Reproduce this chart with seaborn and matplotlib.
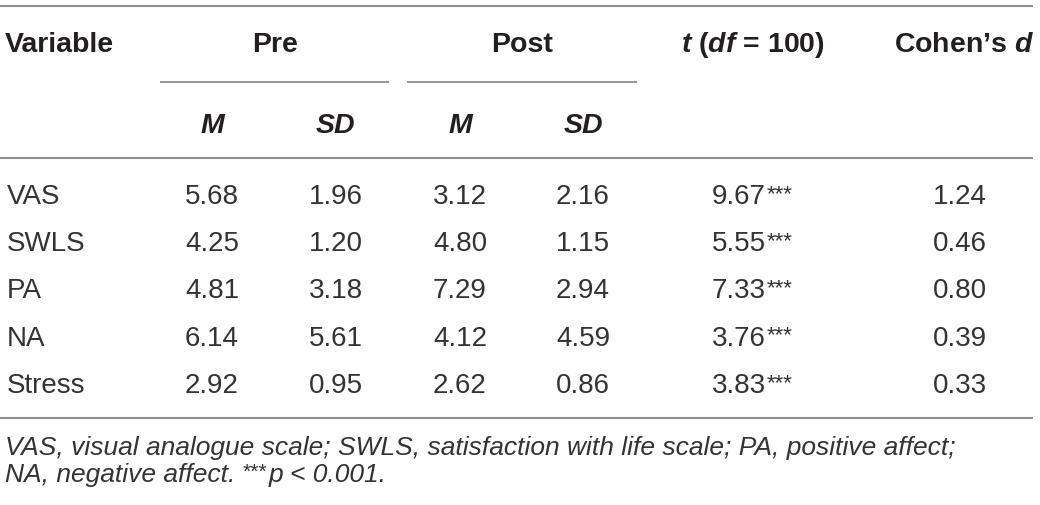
import matplotlib
matplotlib.use("Agg")
import matplotlib.pyplot as plt
import seaborn as sns
import pandas as pd

# ---------------- data ----------------
variables = ["VAS", "SWLS", "PA", "NA", "Stress"]
pre_m = [5.68, 4.25, 4.81, 6.14, 2.92]
pre_sd = [1.96, 1.20, 3.18, 5.61, 0.95]
post_m = [3.12, 4.80, 7.29, 4.12, 2.62]
post_sd = [2.16, 1.15, 2.94, 4.59, 0.86]
t_vals = [9.67, 5.55, 7.33, 3.76, 3.83]
t_sig = ["***", "***", "***", "***", "***"]
cohens_d = [1.24, 0.46, 0.80, 0.39, 0.33]

group_headers = ["Pre", "Post"]
sub_headers = ["M", "SD", "M", "SD"]
note_line1 = "VAS, visual analogue scale; SWLS, satisfaction with life scale; PA, positive affect;"
note_line2_a = "NA, negative affect."
note_line2_sig = "***"
note_line2_b = "p < 0.001."

df = pd.DataFrame({
    "Variable": variables, "pre_m": pre_m, "pre_sd": pre_sd,
    "post_m": post_m, "post_sd": post_sd, "t": t_vals, "sig": t_sig, "d": cohens_d,
})

# ---------------- style ----------------
sns.set_theme(style="white")
plt.rcParams["font.family"] = ["Liberation Sans", "DejaVu Sans"]
plt.rcParams["mathtext.fontset"] = "custom"
plt.rcParams["mathtext.rm"] = "Liberation Sans"
plt.rcParams["mathtext.it"] = "Liberation Sans:bold:italic"
plt.rcParams["mathtext.bf"] = "Liberation Sans:bold"

TXT = "#231f20"
BODY = "#333333"
RULE = "#8e8e8e"
PX = 100 / 72.0  # px per pt

fig = plt.figure(figsize=(10.4, 5.05), dpi=100)
ax = fig.add_axes([0, 0, 1, 1])
ax.set_xlim(0, 1040)
ax.set_ylim(505, 0)
ax.axis("off")
fig.canvas.draw()
rend = fig.canvas.get_renderer()


def width_of(t):
    return t.get_window_extent(rend).width  # 1 data unit == 1 px


# layout
x_left = 7
data_cols = [212, 336, 460, 583, 752, 960]
sub_cols = [212, 335, 460, 583]
group_cols = [275, 522]
group_spans = [(160, 389), (407, 637)]
row_base0, row_step = 204, 47.2
head_fs, body_fs = 20.5, 20
sig_scale = 0.8

# rules
for y in (6, 158, 418):
    ax.plot([0, 1033], [y, y], color=RULE, lw=1.5, solid_capstyle="butt")
for (a, b) in group_spans:
    ax.plot([a, b], [82, 82], color=RULE, lw=1.3, solid_capstyle="butt")

# header
ax.text(x_left - 2, 52, "Variable", fontsize=head_fs, fontweight="bold", color=TXT,
        ha="left", va="baseline")
for g, x in zip(group_headers, group_cols):
    ax.text(x, 52, g, fontsize=head_fs, fontweight="bold", color=TXT, ha="center", va="baseline")
ax.text(753, 52, r"$\it{t}$ ($\it{df}$ = 100)", fontsize=head_fs, fontweight="bold",
        color=TXT, ha="center", va="baseline")
ax.text(964, 52, "Cohen\u2019s $\\it{d}$", fontsize=head_fs, fontweight="bold",
        color=TXT, ha="center", va="baseline")
for s, x in zip(sub_headers, sub_cols):
    ax.text(x, 133, s, fontsize=head_fs, fontweight="bold", style="italic", color=TXT,
            ha="center", va="baseline")


def sig_rise(fs):
    # lift so the small asterisks' tops line up with the digits' tops
    return 0.716 * (1 - sig_scale) * fs * PX


def num_with_sig(xc, yb, num, sig, fs):
    t1 = ax.text(0, yb, num, fontsize=fs, color=BODY, ha="left", va="baseline")
    t2 = ax.text(0, yb - sig_rise(fs), sig, fontsize=fs * sig_scale, color=BODY,
                 ha="left", va="baseline")
    w1, w2 = width_of(t1), width_of(t2)
    x0 = xc - (w1 + w2 + 1) / 2
    t1.set_x(x0)
    t2.set_x(x0 + w1 + 1)


# body
for i, r in df.iterrows():
    yb = row_base0 + i * row_step
    ax.text(x_left, yb, r["Variable"], fontsize=body_fs, color=BODY, ha="left", va="baseline")
    vals = [f"{r['pre_m']:.2f}", f"{r['pre_sd']:.2f}", f"{r['post_m']:.2f}",
            f"{r['post_sd']:.2f}", None, f"{r['d']:.2f}"]
    for v, x in zip(vals, data_cols):
        if v is None:
            num_with_sig(x, yb, f"{r['t']:.2f}", r["sig"], body_fs)
        else:
            ax.text(x, yb, v, fontsize=body_fs, color=BODY, ha="center", va="baseline")

# notes
note_fs = 19
n1 = ax.text(5, 455, note_line1, fontsize=note_fs, style="italic",
             color=BODY, ha="left", va="baseline")

a = ax.text(5, 482, note_line2_a, fontsize=note_fs, style="italic",
            color=BODY, ha="left", va="baseline")
sp1 = ax.text(0, -100, "a a", fontsize=note_fs, style="italic")
sp2 = ax.text(0, -100, "aa", fontsize=note_fs, style="italic")
space = width_of(sp1) - width_of(sp2)
sp1.remove(); sp2.remove()
xa = 5 + width_of(a) + space
s = ax.text(xa, 482 - sig_rise(note_fs), note_line2_sig, fontsize=note_fs * sig_scale,
            color=BODY, ha="left", va="baseline")
ax.text(xa + width_of(s) + 1, 482, note_line2_b, fontsize=note_fs, style="italic",
        color=BODY, ha="left", va="baseline")

fig.savefig("out.png", dpi=100)
